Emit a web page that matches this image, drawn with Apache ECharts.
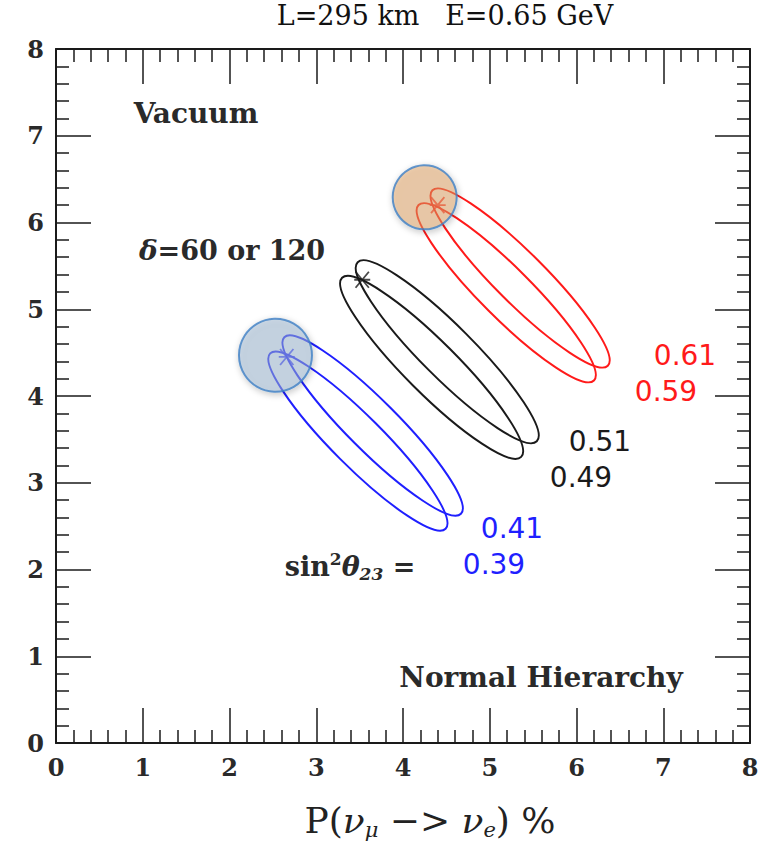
<!DOCTYPE html>
<html>
<head>
<meta charset="utf-8">
<script src="https://cdn.jsdelivr.net/npm/echarts@6/dist/echarts.min.js"></script>
<style>
  html, body { margin: 0; background: #fff; }
  #chart { width: 769px; height: 851px; }
</style>
</head>
<body>
<div id="chart"></div>
<script>
// bi-probability loops, one per sin^2(theta23) (data units)
var loopLabels = ['0.61', '0.59', '0.51', '0.49', '0.41', '0.39'];
var loopCentreX = [5.35, 5.19, 4.51, 4.33, 3.65, 3.48];
var loopCentreY = [5.36, 5.19, 4.51, 4.33, 3.66, 3.48];
var loopHalfLength = [1.43, 1.43, 1.46, 1.46, 1.44, 1.43];
var loopHalfWidth = [0.29, 0.29, 0.30, 0.30, 0.29, 0.29];
var loopTilt = [45, 45, 45, 45, 45, 45]; // degrees below horizontal

// delta = 60 / 120 markers
var starRed = [[4.40, 6.20]];
var starBlack = [[3.53, 5.34]];
var starBlue = [[2.66, 4.45]];

// highlighted circles
var circleOrange = [[4.25, 6.29]];
var circleBlue = [[2.53, 4.47]];

var axisTicks = [0, 1, 2, 3, 4, 5, 6, 7, 8];

var RED = '#ff1a1a', BLUE = '#1f1fff', INK = '#1a1a1a';
var serif = '"DejaVu Serif", serif';
var sans = '"DejaVu Sans", sans-serif';
var starPath = 'path://M0,0L10,10M10,0L0,10M-1,5L11,5';

function frameAxis(pos, labels) {
  return {
    type: 'value',
    position: pos,
    min: axisTicks[0],
    max: axisTicks[axisTicks.length - 1],
    interval: 1,
    axisLine: { show: true, onZero: false, lineStyle: { color: INK, width: 2 } },
    axisTick: { show: true, inside: true, length: 35, lineStyle: { color: INK, width: 1.5 } },
    minorTick: { show: true, splitNumber: 5, length: 13, lineStyle: { color: INK, width: 1.5 } },
    splitLine: { show: false },
    axisLabel: { show: labels, color: '#2a2a2a', fontFamily: serif, fontWeight: 'bold', fontSize: 24, margin: 12 }
  };
}

function loopData(idx) {
  return idx.map(function(i) {
    return [loopCentreX[i], loopCentreY[i], loopHalfLength[i], loopHalfWidth[i], loopTilt[i], loopLabels[i]];
  });
}

function loopSeries(idx, color) {
  return {
    type: 'custom',
    data: loopData(idx),
    renderItem: function(params, api) {
      var c = api.coord([api.value(0), api.value(1)]);
      var s = api.size([api.value(2), api.value(3)]);
      return {
        type: 'ellipse',
        x: c[0], y: c[1],
        rotation: -api.value(4) * Math.PI / 180,
        shape: { cx: 0, cy: 0, rx: s[0], ry: s[1] },
        style: { fill: 'none', stroke: color, lineWidth: 2 }
      };
    },
    z: 2
  };
}

function starSeries(data, color) {
  return {
    type: 'scatter', data: data, symbol: starPath, symbolSize: 16,
    itemStyle: { color: 'transparent', borderColor: color, borderWidth: 1.8 }, z: 3
  };
}

function circleSeries(data, fill, size) {
  return {
    type: 'scatter', data: data, symbol: 'circle', symbolSize: size,
    itemStyle: {
      color: fill, borderColor: '#3f7fc4', borderWidth: 2,
      shadowBlur: 6, shadowColor: 'rgba(0,0,0,0.35)', shadowOffsetX: 1, shadowOffsetY: 2
    },
    z: 4
  };
}

var chart = echarts.init(document.getElementById('chart'), null, { renderer: 'svg' });
chart.setOption({
  animation: false,
  backgroundColor: '#fff',
  grid: { left: 56, right: 19, top: 49, bottom: 108 },
  xAxis: [frameAxis('bottom', true), frameAxis('top', false)],
  yAxis: [frameAxis('left', true), frameAxis('right', false)],
  series: [
    loopSeries([0, 1], RED),
    loopSeries([2, 3], INK),
    loopSeries([4, 5], BLUE),
    starSeries(starRed, RED), starSeries(starBlack, INK), starSeries(starBlue, BLUE),
    circleSeries(circleOrange, 'rgba(230,165,100,0.58)', 64),
    circleSeries(circleBlue, 'rgba(160,185,214,0.6)', 73)
  ],
  graphic: [
    { type: 'text', x: 445, y: 15, style: { text: 'L=295 km   E=0.65 GeV', fontFamily: serif, fontSize: 27, fill: '#111', align: 'center', verticalAlign: 'middle' } },
    { type: 'text', x: 196, y: 113, style: { text: 'Vacuum', fontFamily: serif, fontWeight: 'bold', fontSize: 28, fill: '#2a2a2a', align: 'center', verticalAlign: 'middle' } },
    { type: 'text', x: 232, y: 250, style: {
      text: '{i|δ}=60 or 120', fontFamily: serif, fontWeight: 'bold', fontSize: 27, fill: '#2a2a2a', align: 'center', verticalAlign: 'middle',
      rich: { i: { fontFamily: serif, fontStyle: 'italic', fontWeight: 'bold', fontSize: 28, fill: '#2a2a2a' } }
    } },
    { type: 'text', x: 541, y: 677, style: { text: 'Normal Hierarchy', fontFamily: serif, fontWeight: 'bold', fontSize: 28, fill: '#2a2a2a', align: 'center', verticalAlign: 'middle' } },
    { type: 'text', x: 350, y: 566, style: {
      text: 'sin{sup|2}{i|θ}{sub|23} =', fontFamily: serif, fontWeight: 'bold', fontSize: 27, fill: '#2a2a2a', align: 'center', verticalAlign: 'middle',
      rich: {
        sup: { fontFamily: serif, fontWeight: 'bold', fontSize: 17, fill: '#2a2a2a', padding: [0, 0, 14, 0] },
        i: { fontFamily: serif, fontStyle: 'italic', fontWeight: 'bold', fontSize: 27, fill: '#2a2a2a' },
        sub: { fontFamily: serif, fontStyle: 'italic', fontWeight: 'bold', fontSize: 17, fill: '#2a2a2a', padding: [15, 0, 0, 0] }
      }
    } },
    { type: 'text', x: 685, y: 355, style: { text: '0.61', fontFamily: sans, fontSize: 28, fill: RED, align: 'center', verticalAlign: 'middle' } },
    { type: 'text', x: 666, y: 391, style: { text: '0.59', fontFamily: sans, fontSize: 28, fill: RED, align: 'center', verticalAlign: 'middle' } },
    { type: 'text', x: 600, y: 441, style: { text: '0.51', fontFamily: sans, fontSize: 28, fill: INK, align: 'center', verticalAlign: 'middle' } },
    { type: 'text', x: 581, y: 477, style: { text: '0.49', fontFamily: sans, fontSize: 28, fill: INK, align: 'center', verticalAlign: 'middle' } },
    { type: 'text', x: 512, y: 528, style: { text: '0.41', fontFamily: sans, fontSize: 28, fill: BLUE, align: 'center', verticalAlign: 'middle' } },
    { type: 'text', x: 494, y: 564, style: { text: '0.39', fontFamily: sans, fontSize: 28, fill: BLUE, align: 'center', verticalAlign: 'middle' } },
    { type: 'text', x: 430, y: 820, style: {
      text: 'P({i|ν}{sub|μ} −> {i|ν}{sub|e}) %', fontFamily: serif, fontSize: 36, fill: '#222', align: 'center', verticalAlign: 'middle',
      rich: {
        i: { fontFamily: serif, fontStyle: 'italic', fontSize: 36, fill: '#222' },
        sub: { fontFamily: serif, fontStyle: 'italic', fontSize: 21, fill: '#222', padding: [19, 0, 0, 0] }
      }
    } }
  ]
});
window.addEventListener('resize', function() { chart.resize(); });
</script>
</body>
</html>
